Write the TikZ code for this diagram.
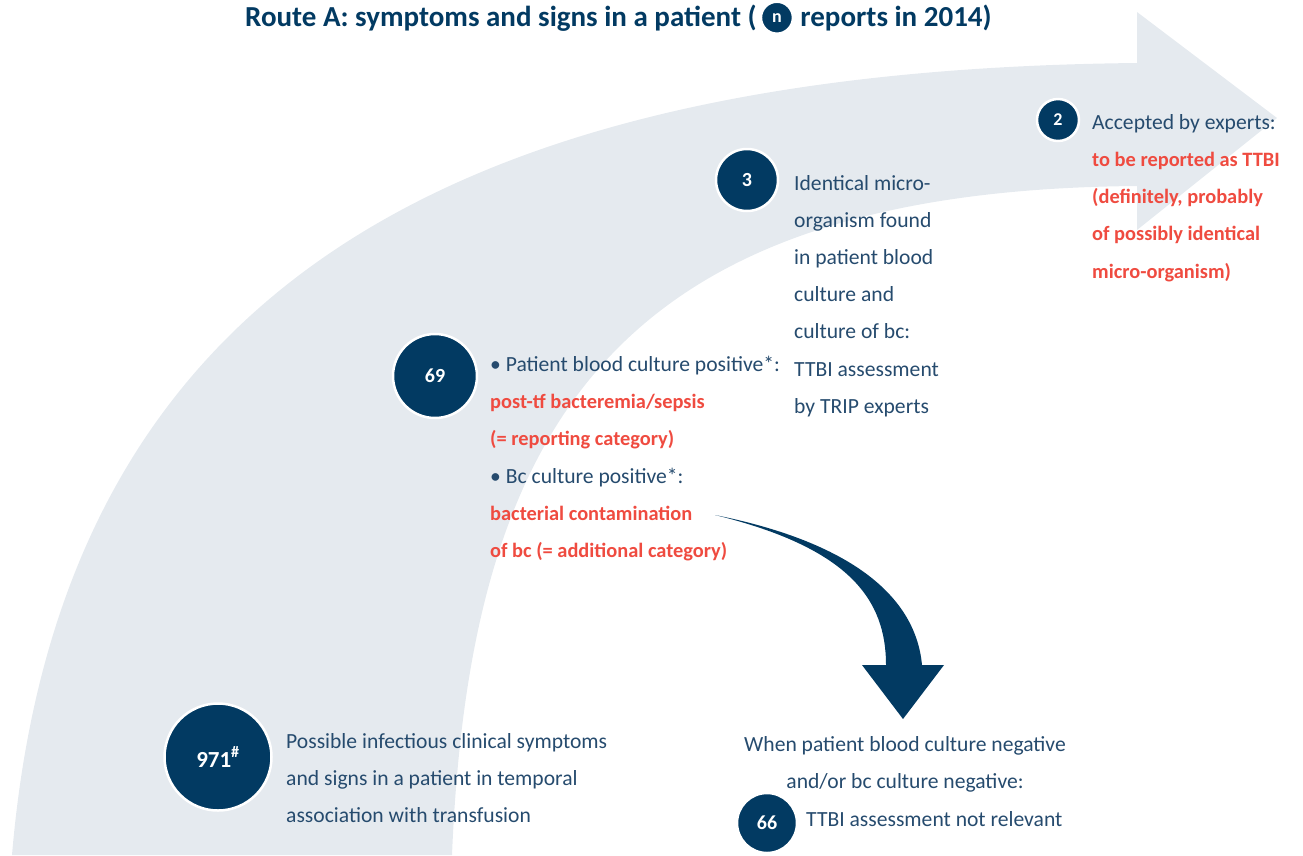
\documentclass[tikz,border=0pt]{standalone}
\usepackage{fontspec}
\setmainfont{Carlito}
\usetikzlibrary{positioning}

\definecolor{navy}{HTML}{023A62}
\definecolor{bodyblue}{HTML}{264B6E}
\definecolor{alertred}{HTML}{EF4B40}
\definecolor{bandgrey}{HTML}{E5EAEF}

\newcommand{\redtxt}[1]{\textcolor{alertred}{\bfseries\fontsize{20.4}{37.2}\selectfont #1}}

\tikzset{
  numdot/.style={circle, fill=navy, draw=white, line width=2.5pt, text=white,
    inner sep=0pt, font=\bfseries\fontsize{20}{22}\selectfont},
  infotext/.style={anchor=west, inner sep=0pt, align=left, text=bodyblue,
    font=\fontsize{21.6}{37.2}\selectfont},
  titletext/.style={inner sep=0pt, text=navy, font=\bfseries\fontsize{29}{32}\selectfont},
}

\begin{document}
\begin{tikzpicture}[x=1pt, y=-1pt]
\useasboundingbox (0,0) rectangle (1303,855);

% grey band with its arrow head
\fill[bandgrey] (12,855) .. controls (60,290) and (450,70) .. (1137,63)
	-- (1137,12) -- (1277,118) -- (1137,230) -- (1137,186)
	.. controls (620,190) and (470,420) .. (452,855) -- cycle;

% dark arrow down to the negative cases
\fill[navy] (715,515) .. controls (840,540) and (915,590) .. (922,665)
	-- (944,665) -- (903,719) -- (862,665) -- (886,665)
	.. controls (886,600) and (850,548) .. (715,515) -- cycle;

% title
\node[titletext, anchor=base west] (titleA) at (245,26) {Route A: symptoms and signs in a patient (};
\node[numdot, minimum size=32pt, font=\bfseries\fontsize{18}{20}\selectfont, right=3pt of titleA] (titlen) {n};
\node[titletext, right=6pt of titlen] (titleB) {reports in 2014)};

% steps
\node[numdot, minimum size=107pt, font=\bfseries\fontsize{23}{25}\selectfont] (n971) at (218,757) {971\textsuperscript{\#}};
\node[infotext] (t971) at (286,778) {Possible infectious clinical symptoms\\and signs in a patient in temporal\\association with transfusion};

\node[numdot, minimum size=84pt] (n69) at (435,376) {69};
\node[infotext] (t69) at (490,458.5) {\textbullet{} Patient blood culture positive*:\\
	\redtxt{post-tf bacteremia/sepsis}\\
	\redtxt{(= reporting category)}\\
	\textbullet{} Bc culture positive*:\\
	\redtxt{bacterial contamination}\\
	\redtxt{of bc (= additional category)}};

\node[numdot, minimum size=62pt] (n3) at (747,180) {3};
\node[infotext] (t3) at (794,296) {Identical micro-\\organism found\\in patient blood\\culture and\\culture of bc:\\TTBI assessment\\by TRIP experts};

\node[numdot, minimum size=42pt, font=\bfseries\fontsize{18}{20}\selectfont] (n2) at (1058,120) {2};
\node[infotext] (t2) at (1092,198) {Accepted by experts:\\
	\redtxt{to be reported as TTBI}\\
	\redtxt{(definitely, probably}\\
	\redtxt{of possibly identical}\\
	\redtxt{micro-organism)}};

\node[infotext, anchor=center, align=center] (tneg) at (905,764) {When patient blood culture negative\\and/or bc culture negative:};
\node[numdot, minimum size=60pt] (n66) at (767,823) {66};
\node[infotext] (t66) at (806,819) {TTBI assessment not relevant};
\end{tikzpicture}
\end{document}
